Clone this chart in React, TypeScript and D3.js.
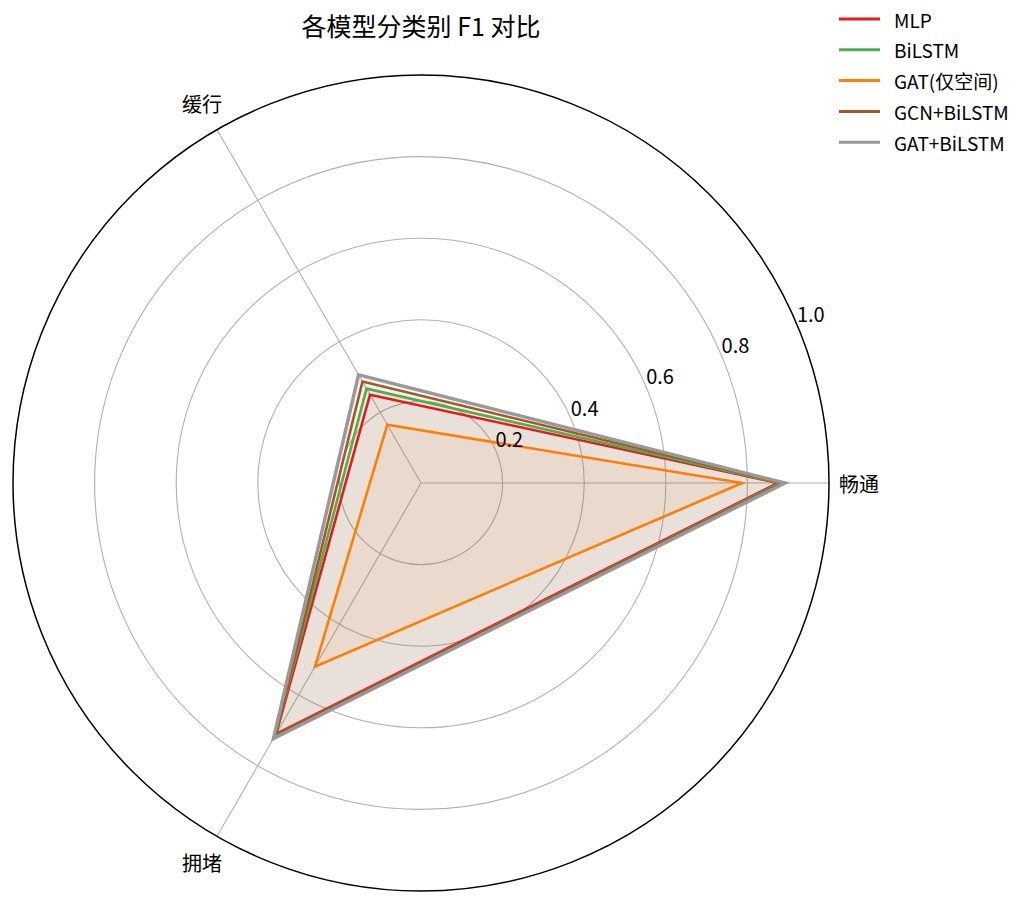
import React from "react";
import * as d3 from "d3";

const categories = ["畅通", "缓行", "拥堵"];
const seriesNames = ["MLP", "BiLSTM", "GAT(仅空间)", "GCN+BiLSTM", "GAT+BiLSTM"];
const seriesColors = ["#e41a1c", "#4daf4a", "#ff7f00", "#a65628", "#999999"];
const mlpValues = [0.875, 0.25, 0.71];
const bilstmValues = [0.88, 0.267, 0.715];
const gatValues = [0.787, 0.165, 0.52];
const gcnBilstmValues = [0.885, 0.287, 0.712];
const gatBilstmValues = [0.892, 0.306, 0.723];
const radialTicks = [0.2, 0.4, 0.6, 0.8, 1.0];
const title = "各模型分类别 F1 对比";

const seriesValues = [mlpValues, bilstmValues, gatValues, gcnBilstmValues, gatBilstmValues];

const W = 1025;
const H = 904;
const cx = 421;
const cy = 483;
const R = 408;
const FONT = "'Noto Sans CJK SC', 'Noto Sans', sans-serif";

export default function App() {
  const r = d3.scaleLinear().domain([0, 1]).range([0, R]);
  const angleScale = d3
    .scaleLinear()
    .domain([0, categories.length])
    .range([0, 2 * Math.PI]);

  const pt = (i: number, v: number): [number, number] => {
    const a = angleScale(i);
    return [cx + r(v) * Math.cos(a), cy - r(v) * Math.sin(a)];
  };

  const line = d3
    .line<number>()
    .x((v, i) => pt(i, v)[0])
    .y((v, i) => pt(i, v)[1])
    .curve(d3.curveLinearClosed);

  const labelAngle = (22.5 * Math.PI) / 180;

  return (
    <svg
      width={W}
      height={H}
      style={{ position: "absolute", left: 0, top: 0, background: "#fff" }}
      fontFamily={FONT}
    >
      {radialTicks.slice(0, -1).map((t) => (
        <circle key={t} cx={cx} cy={cy} r={r(t)} fill="none" stroke="#b0b0b0" strokeWidth={1.1} />
      ))}
      {categories.map((c, i) => {
        const [x, y] = pt(i, 1);
        return <line key={c} x1={cx} y1={cy} x2={x} y2={y} stroke="#b0b0b0" strokeWidth={1.1} />;
      })}
      {seriesValues.map((vals, si) => (
        <path key={"f" + si} d={line(vals) || ""} fill={seriesColors[si]} fillOpacity={0.055} stroke="none" />
      ))}
      {seriesValues.map((vals, si) => (
        <path
          key={"l" + si}
          d={line(vals) || ""}
          fill="none"
          stroke={seriesColors[si]}
          strokeWidth={si === 4 ? 3.5 : 2.6}
          strokeLinejoin="miter"
        />
      ))}
      <circle cx={cx} cy={cy} r={R} fill="none" stroke="#000" strokeWidth={1.5} />
      {radialTicks.map((t) => {
        const x = cx + r(t) * Math.cos(labelAngle);
        const y = cy - r(t) * Math.sin(labelAngle);
        return (
          <text key={t} x={x - 1} y={y - 5} fontSize={20} textAnchor="start" fill="#000">
            {d3.format(".1f")(t)}
          </text>
        );
      })}
      {categories.map((c, i) => {
        const a = angleScale(i);
        const x = cx + (R + 30) * Math.cos(a);
        const y = cy - (R + 30) * Math.sin(a);
        return (
          <text key={c} x={x} y={y} fontSize={20} textAnchor="middle" dominantBaseline="central" fill="#000">
            {c}
          </text>
        );
      })}
      <text x={cx} y={25} fontSize={25} textAnchor="middle" dominantBaseline="central" fill="#000">
        {title}
      </text>
      {seriesNames.map((n, i) => {
        const y = 19 + i * 30.8;
        return (
          <g key={n}>
            <line x1={839} x2={880} y1={y} y2={y} stroke={seriesColors[i]} strokeWidth={3} />
            <text x={894} y={y} fontSize={19} dominantBaseline="central" fill="#000">
              {n}
            </text>
          </g>
        );
      })}
    </svg>
  );
}
